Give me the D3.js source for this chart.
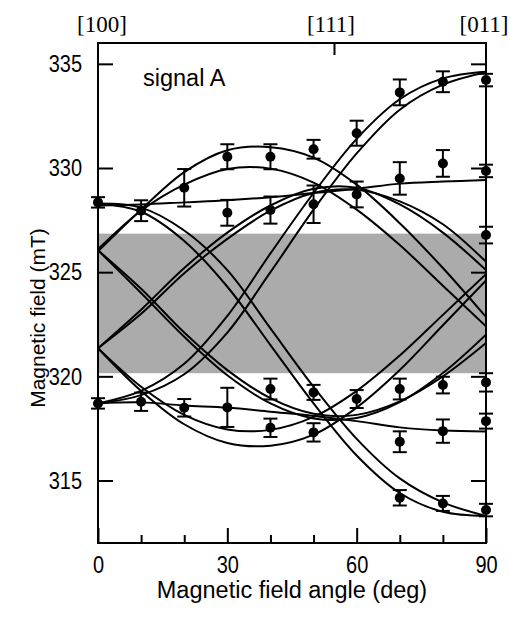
<!DOCTYPE html>
<html><head><meta charset="utf-8">
<script src="https://cdn.jsdelivr.net/npm/d3@7"></script>
<style>
html,body{margin:0;padding:0;background:#fff;}
text{font-family:"Liberation Sans",Arial,sans-serif;fill:#000;}
</style></head>
<body>
<svg id="chart" width="510" height="622"></svg>
<script>
// ---- data ----
const angles = [0,10,20,30,40,50,60,70,80,90];
const yTicks = [315,320,325,330,335];
const xMajor = [0,30,60,90];
const xMinor = [10,20,40,50,70,80];
const topLabels = ["[100]","[111]","[011]"];
const topAngles = [0,54.74,90];
const bandRange = [320.15,326.85];

// fitted curves, field (mT) at the angles above
const curveF_up = [328.2,328.25,328.35,328.45,328.6,328.8,329.0,329.25,329.35,329.42];
const curveF_lo = [318.7,318.75,318.6,318.5,318.3,318.1,317.85,317.55,317.4,317.35];
const curveR1 = [318.7,319.3,320.6,322.9,325.9,328.8,331.4,333.3,334.3,334.62];
const curveR2 = [318.7,319.1,320.1,322.1,325.0,328.0,330.7,332.8,334.0,334.6];
const curveD1 = [328.3,327.9,326.5,324.3,321.5,318.7,316.2,314.4,313.5,313.3];
const curveD2 = [328.3,328.1,327.0,325.1,322.3,319.5,317.0,315.1,313.95,313.3];
const curveA1 = [326.0,328.0,329.8,330.85,331.0,330.5,329.2,327.35,325.2,322.85];
const curveA2 = [326.1,327.95,329.2,329.95,329.97,329.3,328.0,326.3,324.35,322.4];
const curveAL1 = [321.35,319.3,317.7,316.8,316.67,317.2,318.5,320.3,322.45,324.6];
const curveAL2 = [321.35,319.5,318.15,317.45,317.43,318.05,319.3,321.0,322.95,324.9];
const curveV1 = [326.05,324.0,321.9,320.05,318.7,317.98,318.0,318.76,320.16,322.0];
const curveV2 = [326.05,324.2,322.1,320.3,318.95,318.2,318.15,318.8,320.0,321.6];
const curveVL1 = [321.35,323.2,325.2,326.9,328.2,329.0,329.05,328.25,326.9,325.1];
const curveVL2 = [321.35,323.0,324.95,326.6,327.95,328.8,328.95,328.4,327.3,325.5];
const curves = [curveF_up,curveF_lo,curveR1,curveR2,curveD1,curveD2,curveA1,curveA2,
                curveAL1,curveAL2,curveV1,curveV2,curveVL1,curveVL2];

// measured points
const ptAngle = [0,10,20,30,40,30,40,50,50,60,60,70,70,80,80,90,90,90,
                 0,10,20,30,40,40,50,50,60,70,70,70,80,80,80,90,90,90];
const ptField = [328.35,327.95,329.05,330.54,330.54,327.85,327.98,330.9,328.26,331.67,328.73,333.63,329.5,334.14,330.22,334.22,329.86,326.78,
                 318.7,318.78,318.49,318.51,319.39,317.53,319.23,317.31,318.91,319.39,316.86,314.17,319.58,317.37,313.9,319.71,317.85,313.58];
const ptErr = [0.25,0.5,0.9,0.6,0.6,0.62,0.65,0.45,0.9,0.6,0.62,0.62,0.78,0.5,0.64,0.3,0.3,0.4,
               0.25,0.44,0.42,0.94,0.5,0.44,0.36,0.44,0.43,0.5,0.5,0.37,0.4,0.56,0.36,0.44,0.36,0.3];

// ---- drawing ----
const svg = d3.select("#chart");
const L=98, R=486, T=43, B=543;
const x = d3.scaleLinear().domain([0,90]).range([L,R]);
const y = d3.scaleLinear().domain([312,336]).range([B,T]);

svg.append("defs").append("clipPath").attr("id","clip")
  .append("rect").attr("x",L).attr("y",T).attr("width",R-L).attr("height",B-T);

// gray band
svg.append("rect").attr("x",L).attr("width",R-L)
  .attr("y",y(bandRange[1])).attr("height",y(bandRange[0])-y(bandRange[1]))
  .attr("fill","#ababab");

// curves
const line = d3.line().x((d,i)=>x(angles[i])).y(d=>y(d)).curve(d3.curveCatmullRom.alpha(0.5));
svg.append("g").attr("clip-path","url(#clip)").selectAll("path").data(curves).join("path")
  .attr("d",line).attr("fill","none").attr("stroke","#000").attr("stroke-width",2);

// error bars and points
const pts = ptAngle.map((a,i)=>({a,f:ptField[i],e:ptErr[i]}));
const gp = svg.append("g");
gp.selectAll("line.eb").data(pts).join("line").attr("class","eb")
  .attr("x1",d=>x(d.a)).attr("x2",d=>x(d.a)).attr("y1",d=>y(d.f-d.e)).attr("y2",d=>y(d.f+d.e))
  .attr("stroke","#000").attr("stroke-width",2);
[-1,1].forEach(s=>{
  gp.selectAll("line.cap"+(s>0?"p":"m")).data(pts).join("line").attr("class","cap"+(s>0?"p":"m"))
    .attr("x1",d=>x(d.a)-7).attr("x2",d=>x(d.a)+7)
    .attr("y1",d=>y(d.f+s*d.e)).attr("y2",d=>y(d.f+s*d.e))
    .attr("stroke","#000").attr("stroke-width",2);
});
gp.selectAll("circle").data(pts).join("circle")
  .attr("cx",d=>x(d.a)).attr("cy",d=>y(d.f)).attr("r",5).attr("fill","#000");

// axes
const axL = svg.append("g").attr("transform",`translate(${L},0)`)
  .call(d3.axisLeft(y).tickValues(yTicks).tickSize(-15).tickPadding(16).tickFormat(d3.format("d")));
const axR = svg.append("g").attr("transform",`translate(${R},0)`)
  .call(d3.axisRight(y).tickValues(yTicks).tickSize(-15).tickFormat(""));
const axB = svg.append("g").attr("transform",`translate(0,${B})`)
  .call(d3.axisBottom(x).tickValues(xMajor).tickSize(-15).tickPadding(11).tickFormat(d3.format("d")));
const axBm = svg.append("g").attr("transform",`translate(0,${B})`)
  .call(d3.axisBottom(x).tickValues(xMinor).tickSize(-8).tickFormat(""));
const axT = svg.append("g").attr("transform",`translate(0,${T})`)
  .call(d3.axisTop(x).tickValues([topAngles[1]]).tickSize(-12).tickFormat(""));
[axL,axR,axB,axBm,axT].forEach(g=>{
  g.selectAll(".domain").remove();
  g.selectAll("line").attr("stroke","#000").attr("stroke-width",2);
  g.selectAll("text").style("font-size","20px").style("font-family","'Liberation Sans',Arial,sans-serif")
    .attr("fill","#000").attr("transform","scale(1,1.2)");
});
// frame
svg.append("rect").attr("x",L).attr("y",T).attr("width",R-L).attr("height",B-T)
  .attr("fill","none").attr("stroke","#000").attr("stroke-width",2);

// top direction labels
svg.selectAll("text.top").data(topLabels).join("text").attr("class","top")
  .attr("x",(d,i)=>x(topAngles[i])+(i===0?4:(i===1?-3:-2))).attr("y",32)
  .attr("text-anchor","middle").style("font-family","'Liberation Serif','Times New Roman',serif")
  .style("font-size","23px").text(d=>d);

// titles
svg.append("text").attr("x",(L+R)/2).attr("y",598).attr("text-anchor","middle")
  .style("font-size","23.5px").text("Magnetic field angle (deg)");
svg.append("text").attr("transform","translate(45,318) rotate(-90)").attr("text-anchor","middle")
  .style("font-size","21px").text("Magnetic field (mT)");
svg.append("text").attr("x",143).attr("y",86).style("font-size","23.5px").text("signal A");
</script>
</body></html>
